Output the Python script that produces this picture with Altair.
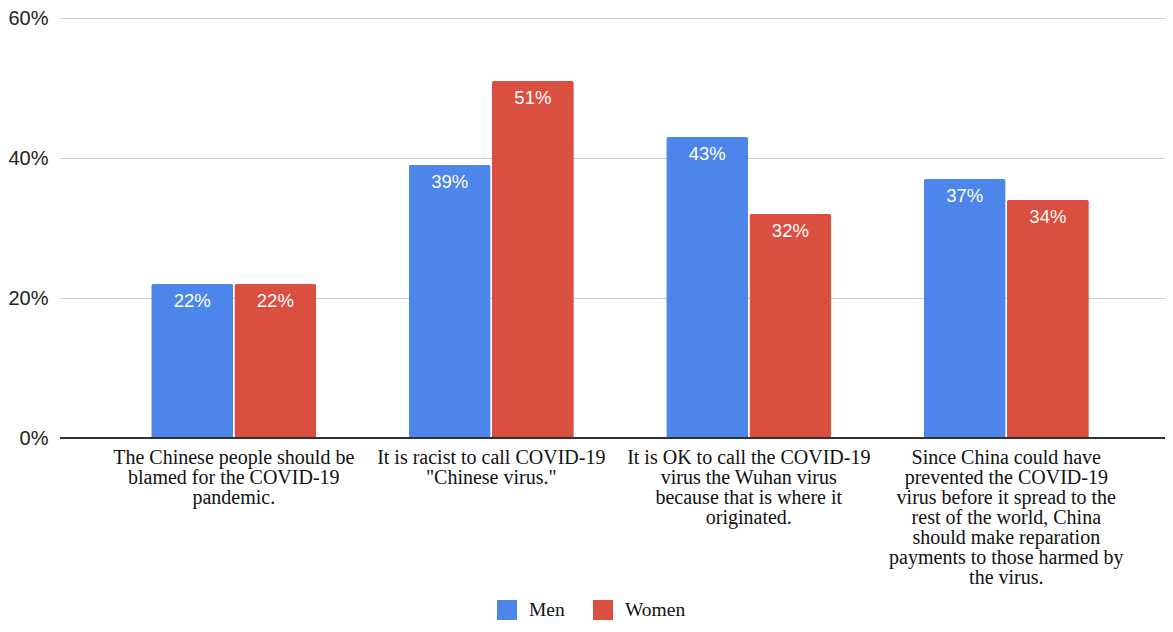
import altair as alt
import pandas as pd

categories = [
    "The Chinese people should be|blamed for the COVID-19|pandemic.",
    "It is racist to call COVID-19|\"Chinese virus.\"",
    "It is OK to call the COVID-19|virus the Wuhan virus|because that is where it|originated.",
    "Since China could have|prevented the COVID-19|virus before it spread to the|rest of the world, China|should make reparation|payments to those harmed by|the virus.",
]
men = [0.22, 0.39, 0.43, 0.37]
women = [0.22, 0.51, 0.32, 0.34]
groups = ["Men", "Women"]
colors = ["#4d86ea", "#da4f3f"]

rows = []
for c, m, w in zip(categories, men, women):
    rows.append({"cat": c, "g": "Men", "v": m})
    rows.append({"cat": c, "g": "Women", "v": w})
df = pd.DataFrame(rows)

xenc = alt.X("cat:N", sort=categories, title=None,
             scale=alt.Scale(paddingInner=0.359, paddingOuter=0.325, align=0.545),
             axis=alt.Axis(labelAngle=0, domain=False, ticks=False,
                           labelFont="Liberation Serif", labelFontSize=20,
                           labelColor="#111", labelLineHeight=20,
                           labelPadding=9, labelLimit=400, labelBaseline="top",
                           labelExpr="split(datum.label, '|')"))
yenc = alt.Y("v:Q", title=None,
             scale=alt.Scale(domain=[0, 0.6]),
             axis=alt.Axis(values=[0, 0.2, 0.4, 0.6], format=".0%",
                           domain=False, ticks=False, labelPadding=12,
                           labelFont="Liberation Sans", labelFontSize=20,
                           labelColor="#222", gridColor="#cccccc"))
xoff = alt.XOffset("g:N", sort=groups, scale=alt.Scale(paddingInner=0.015))
color = alt.Color("g:N", sort=groups, title=None,
                  scale=alt.Scale(domain=groups, range=colors),
                  legend=alt.Legend(orient="none", legendX=437, legendY=582,
                                    direction="horizontal", symbolType="square",
                                    symbolSize=400, symbolStrokeWidth=0,
                                    labelFont="Liberation Serif", labelFontSize=19.5,
                                    labelColor="#111", labelOffset=12,
                                    columnPadding=28))

base = alt.Chart(df)
bars = base.mark_bar(cornerRadiusTopLeft=2, cornerRadiusTopRight=2).encode(
    x=xenc, y=yenc, xOffset=xoff, color=color)
labels = base.mark_text(dy=17, baseline="middle", color="white",
                        font="Liberation Sans", fontSize=18.5).encode(
    x=alt.X("cat:N", sort=categories), y="v:Q", xOffset=alt.XOffset("g:N", sort=groups),
    text=alt.Text("v:Q", format=".0%"))
baseline = base.mark_rule(color="#333", strokeWidth=1.2).encode(y=alt.datum(0))

chart = alt.layer(bars, labels, baseline).properties(
    width=1105, height=420,
    autosize=alt.AutoSizeParams(type="none"),
    padding={"left": 52, "top": 10, "right": 0, "bottom": 186},
).configure_view(stroke=None)

chart.save("out.html", embed_options={"renderer": "svg", "actions": False})
